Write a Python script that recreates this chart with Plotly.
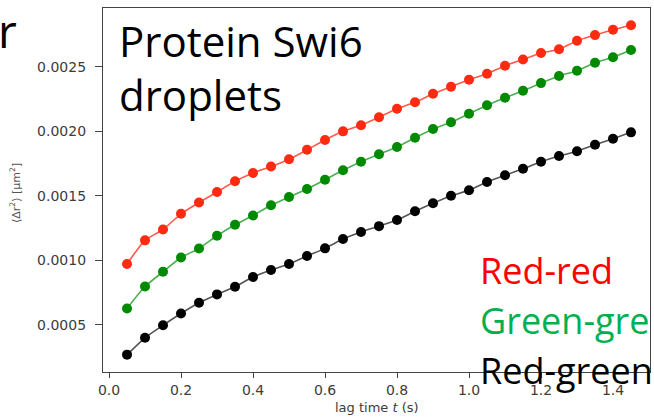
import plotly.graph_objects as go

lag_time = [0.05, 0.10, 0.15, 0.20, 0.25, 0.30, 0.35, 0.40, 0.45, 0.50,
            0.55, 0.60, 0.65, 0.70, 0.75, 0.80, 0.85, 0.90, 0.95, 1.00,
            1.05, 1.10, 1.15, 1.20, 1.25, 1.30, 1.35, 1.40, 1.45]

red_red = [0.000973, 0.001156, 0.001240, 0.001362, 0.001449, 0.001531, 0.001614, 0.001678,
           0.001728, 0.001784, 0.001858, 0.001934, 0.002001, 0.002048, 0.002110, 0.002176,
           0.002226, 0.002292, 0.002347, 0.002401, 0.002447, 0.002509, 0.002558, 0.002608,
           0.002637, 0.002703, 0.002747, 0.002788, 0.002823]

green_green = [0.000628, 0.000798, 0.000912, 0.001023, 0.001093, 0.001192, 0.001277, 0.001349,
               0.001428, 0.001492, 0.001554, 0.001626, 0.001699, 0.001765, 0.001823, 0.001879,
               0.001951, 0.002019, 0.002071, 0.002137, 0.002203, 0.002261, 0.002316, 0.002375,
               0.002430, 0.002471, 0.002533, 0.002575, 0.002631]

red_green = [0.000270, 0.000401, 0.000498, 0.000589, 0.000672, 0.000737, 0.000797, 0.000872,
             0.000926, 0.000973, 0.001035, 0.001094, 0.001166, 0.001221, 0.001266, 0.001314,
             0.001381, 0.001443, 0.001502, 0.001544, 0.001608, 0.001660, 0.001711, 0.001765,
             0.001810, 0.001846, 0.001897, 0.001944, 0.001993]

x_ticks = [0.0, 0.2, 0.4, 0.6, 0.8, 1.0, 1.2, 1.4]
x_tick_labels = ["0.0", "0.2", "0.4", "0.6", "0.8", "1.0", "1.2", "1.4"]
y_ticks = [0.0005, 0.0010, 0.0015, 0.0020, 0.0025]
y_tick_labels = ["0.0005", "0.0010", "0.0015", "0.0020", "0.0025"]

series = [
    ("Red-red", red_red, "#ff2a12", "#ff5a4a"),
    ("Green-green", green_green, "#008a00", "#4caf50"),
    ("Red-green", red_green, "#000000", "#555555"),
]

W, H = 654, 417
ML, MR, MT, MB = 103, 4, 8, 45
PW, PH = W - ML - MR, H - MT - MB

def px(x):
    return (x - ML) / PW

def py(y):
    return (H - MB - y) / PH

fig = go.Figure()
for name, vals, mcol, lcol in series:
    fig.add_trace(go.Scatter(
        x=lag_time, y=vals, mode="lines+markers", name=name,
        line=dict(color=lcol, width=1.6, shape="spline", smoothing=0.6),
        marker=dict(color=mcol, size=10, line=dict(width=0)),
        showlegend=False,
    ))

tick_font = dict(family="DejaVu Sans", size=14, color="#3c3c3c")
fig.update_xaxes(
    range=[-0.0167, (W - MR - ML) / 360 - 0.0167],
    tickmode="array", tickvals=x_ticks, ticktext=x_tick_labels,
    ticks="outside", ticklen=5, tickcolor="#444", tickwidth=1,
    showline=True, linecolor="#444", linewidth=1.2, mirror=True,
    showgrid=False, zeroline=False, tickfont=tick_font, automargin=False,
)
fig.update_yaxes(
    range=[0.0001356, 0.002957],
    tickmode="array", tickvals=y_ticks, ticktext=y_tick_labels,
    ticks="outside", ticklen=7, tickcolor="#444", tickwidth=1,
    showline=True, linecolor="#444", linewidth=1.2, mirror=True,
    showgrid=False, zeroline=False, tickfont=tick_font, automargin=False,
    ticklabelstandoff=6,
)

big = "Open Sans"
annotations = [
    dict(text="lag time <i>t</i> (s)", x=px(377), y=py(407), xanchor="center", yanchor="middle",
         font=dict(family="DejaVu Sans", size=13, color="#3c3c3c")),
    dict(text="⟨Δr<sup>2</sup>⟩ [μm<sup>2</sup>]", x=px(15), y=py(193), textangle=-90,
         font=dict(family="DejaVu Sans", size=11, color="#555"), xanchor="center", yanchor="middle"),
    dict(text="Protein Swi6", x=px(117), y=py(40), xanchor="left", yanchor="middle",
         font=dict(family=big, size=42, color="#000")),
    dict(text="droplets", x=px(117), y=py(94), xanchor="left", yanchor="middle",
         font=dict(family=big, size=42, color="#000")),
    dict(text="r", x=px(-4), y=py(30), xanchor="left", yanchor="middle",
         font=dict(family=big, size=46, color="#000")),
    dict(text="Red-red", x=px(478), y=py(270), xanchor="left", yanchor="middle",
         font=dict(family=big, size=36, color="#ff0000")),
    dict(text="Green-gre", x=px(478), y=py(320), xanchor="left", yanchor="middle",
         font=dict(family=big, size=36, color="#00b050")),
    dict(text="Red-green", x=px(478), y=py(370), xanchor="left", yanchor="middle",
         font=dict(family=big, size=36, color="#000000")),
]
for a in annotations:
    a.update(xref="paper", yref="paper", showarrow=False)

fig.update_layout(
    width=W, height=H,
    margin=dict(l=ML, r=MR, t=MT, b=MB, autoexpand=False),
    paper_bgcolor="white", plot_bgcolor="white",
    annotations=annotations,
)

fig.write_html("out.html", config={"displayModeBar": False},
               post_script="document.body.style.margin='0';document.body.style.overflow='hidden';")
